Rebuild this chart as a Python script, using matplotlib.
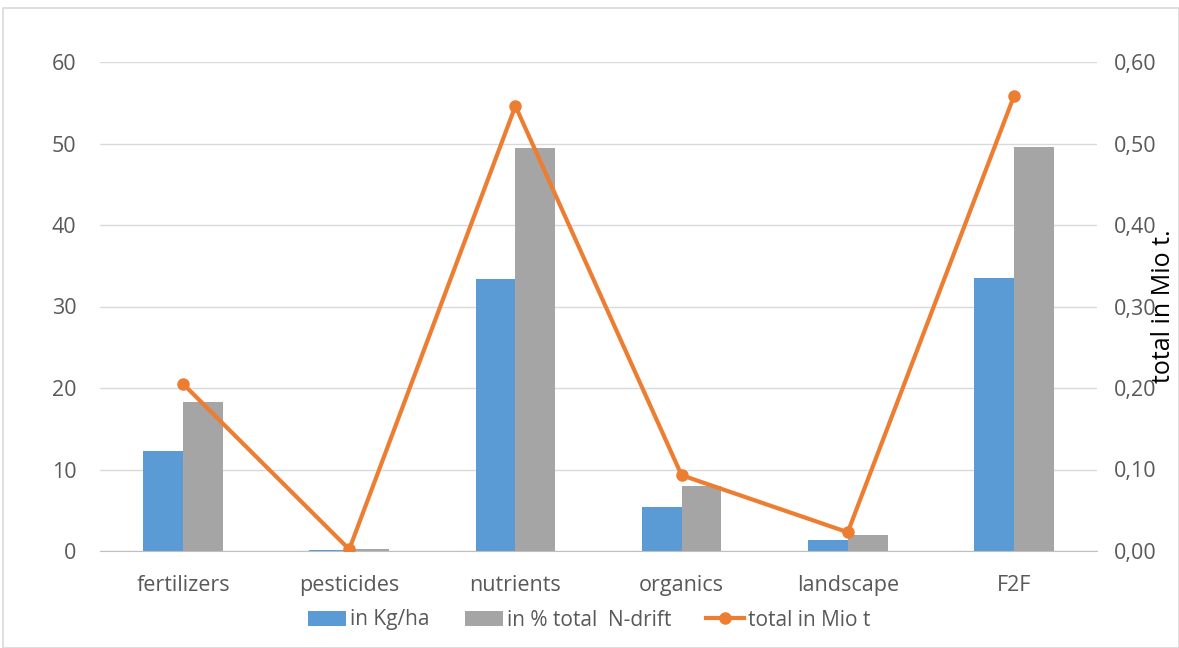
import matplotlib
matplotlib.use("Agg")
import matplotlib.pyplot as plt
from matplotlib.patches import Rectangle
from matplotlib.ticker import FuncFormatter
import numpy as np

plt.rcParams['font.family'] = ['Open Sans', 'DejaVu Sans']

categories = ['fertilizers', 'pesticides', 'nutrients', 'organics', 'landscape', 'F2F']
kg_ha = [12.3, 0.1, 33.4, 5.4, 1.35, 33.5]
pct_drift = [18.3, 0.2, 49.4, 8.0, 2.0, 49.6]
total_mio_t = [0.205, 0.002, 0.546, 0.093, 0.023, 0.558]

blue = '#5B9BD5'
gray = '#A5A5A5'
orange = '#ED7D31'
txt = '#595959'

fig = plt.figure(figsize=(11.79, 6.48), dpi=100)
fig.patches.append(Rectangle((3 / 1179, 0), 1 - 3 / 1179, 1 - 8 / 648,
                             transform=fig.transFigure, fill=False,
                             edgecolor='#D9D9D9', linewidth=1.2))
ax = fig.add_axes([100 / 1179, 1 - 551 / 648, 997 / 1179, 489 / 648])
x = np.arange(len(categories))
w = 0.24
b1 = ax.bar(x - w / 2, kg_ha, w, color=blue, label='in Kg/ha', zorder=2)
b2 = ax.bar(x + w / 2, pct_drift, w, color=gray, label='in % total  N-drift', zorder=2)
ax.set_xlim(-0.5, len(categories) - 0.5)
ax.set_ylim(0, 60)
ax.set_yticks(range(0, 61, 10))
ax.grid(axis='y', color='#D9D9D9', linewidth=1, zorder=0)
ax.set_xticks(x)
ax.set_xticklabels(categories)
for s in ['top', 'left', 'right']:
    ax.spines[s].set_visible(False)
ax.spines['bottom'].set_color('#BFBFBF')
ax.tick_params(length=0, labelsize=15.5, colors=txt, pad=17)
ax.tick_params(axis='y', pad=17)

ax2 = ax.twinx()
l1, = ax2.plot(x, total_mio_t, color=orange, linewidth=3, marker='o',
               markersize=8, label='total in Mio t', zorder=3)
ax2.set_ylim(0, 0.6)
ax2.set_yticks(np.arange(0, 0.61, 0.1))
ax2.yaxis.set_major_formatter(FuncFormatter(lambda v, p: f'{v:.2f}'.replace('.', ',')))
for s in ax2.spines.values():
    s.set_visible(False)
ax2.tick_params(length=0, labelsize=15.5, colors=txt, pad=12)
ax2.set_ylabel('total in Mio t.', fontsize=18, color='black')
ax2.yaxis.set_label_coords(1.054, 0.5)

fig.legend(handles=[b1, b2, l1], loc='center', bbox_to_anchor=(0.5, 1 - 620 / 648),
           ncol=3, frameon=False, fontsize=15, labelcolor=txt,
           handlelength=1.8, columnspacing=1.7, handletextpad=0.2)

fig.savefig('out.png', dpi=100)
